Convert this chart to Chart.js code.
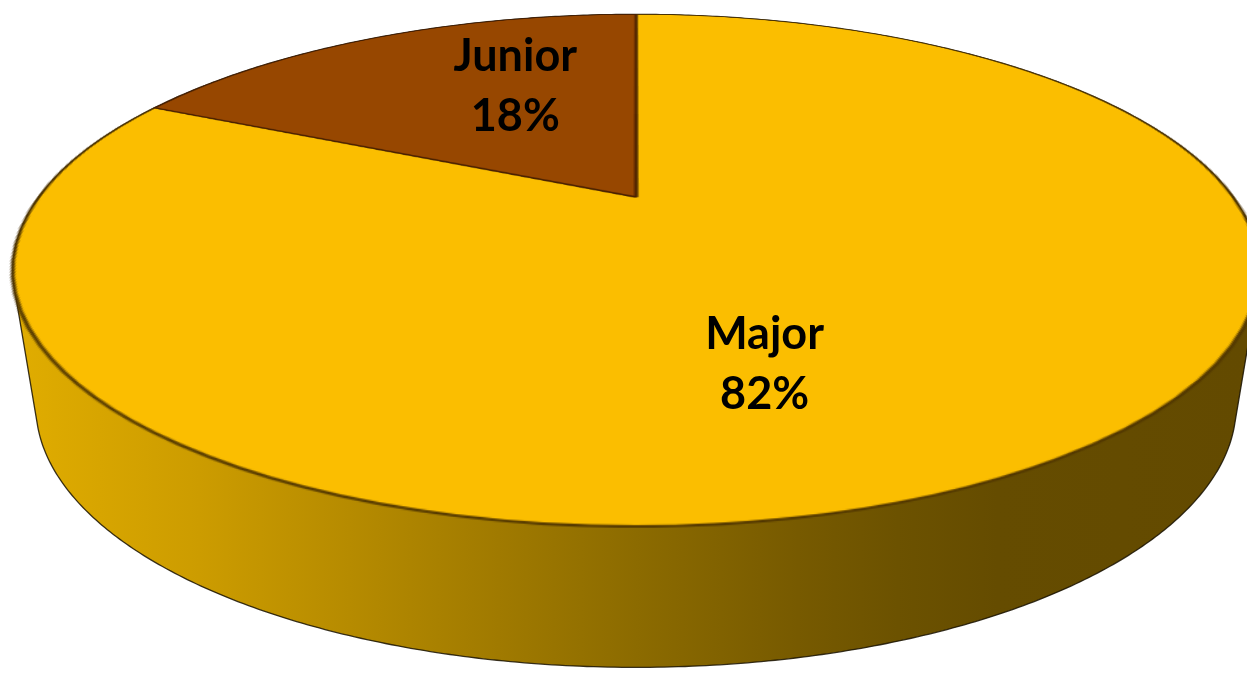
<!DOCTYPE html>
<html>
<head>
<meta charset="utf-8">
<title>Junior vs Major</title>
<script src="https://cdn.jsdelivr.net/npm/chart.js@4.4.1/dist/chart.umd.min.js"></script>
<style>
  html, body { margin: 0; padding: 0; background: #ffffff; }
  #wrap { width: 1247px; height: 673px; overflow: hidden; }
</style>
</head>
<body>
<div id="wrap"><canvas id="pieCanvas" width="1247" height="673"></canvas></div>
<script>
// values
const categories = ['Major', 'Junior'];
const shares = [82, 18];
const sliceColors = ['#FBBE00', '#974700'];
const sliceEdges = ['rgba(75,50,0,0.9)', 'rgba(70,30,0,0.9)'];

// where each label sits in its slice: [fraction along the arc, fraction of radius]
const labelSpots = [[0.553, 0.62], [0.64, 0.59]];

// tilted disc (simple perspective): top face and bottom rim
const TOP = { cx: 636, cy: 197, rx: 597, ry: 235, k: 0.2865 };
const BASE = { cx: 636, cy: 331, rx: 575, ry: 240, k: 0.2865 };

function project(p, u, v) {
    const w = 1 / (1 - p.k * v);
    return [p.cx + p.rx * u * w, p.cy + p.ry * v * w];
}

function convexHull(pts) {
    const p = pts.slice().sort((a, b) => a[0] - b[0] || a[1] - b[1]);
    const cross = (o, a, b) => (a[0] - o[0]) * (b[1] - o[1]) - (a[1] - o[1]) * (b[0] - o[0]);
    const lower = [], upper = [];
    for (const q of p) {
        while (lower.length >= 2 && cross(lower[lower.length - 2], lower[lower.length - 1], q) <= 0) lower.pop();
        lower.push(q);
    }
    for (let i = p.length - 1; i >= 0; i--) {
        const q = p[i];
        while (upper.length >= 2 && cross(upper[upper.length - 2], upper[upper.length - 1], q) <= 0) upper.pop();
        upper.push(q);
    }
    upper.pop(); lower.pop();
    return lower.concat(upper);
}

// Re-draws the flat pie that Chart.js just painted as a tilted 3D disc
const tiltPlugin = {
    id: 'tilt',
    afterDatasetsDraw(chart) {
        const ctx = chart.ctx, cv = chart.canvas;
        const arc = chart.getDatasetMeta(0).data[0];
        const sx0 = arc.x, sy0 = arc.y, r0 = arc.outerRadius;

        const flat = document.createElement('canvas');
        flat.width = cv.width; flat.height = cv.height;
        flat.getContext('2d').drawImage(cv, 0, 0);

        ctx.save();
        ctx.setTransform(1, 0, 0, 1, 0, 0);
        ctx.clearRect(0, 0, cv.width, cv.height);

        // side wall = hull of top rim and bottom rim
        const pts = [];
        for (let i = 0; i < 720; i++) {
            const a = i * Math.PI / 360;
            pts.push(project(TOP, Math.cos(a), Math.sin(a)));
            pts.push(project(BASE, Math.cos(a), Math.sin(a)));
        }
        const hull = convexHull(pts);
        const g = ctx.createLinearGradient(0, 0, cv.width, 0);
        g.addColorStop(0.00, '#E2AE00');
        g.addColorStop(0.16, '#CC9C00');
        g.addColorStop(0.40, '#A07A00');
        g.addColorStop(0.51, '#8C6B00');
        g.addColorStop(0.64, '#775A00');
        g.addColorStop(0.72, '#6C5200');
        g.addColorStop(0.80, '#654C00');
        g.addColorStop(1.00, '#634A00');
        ctx.beginPath();
        hull.forEach((q, i) => i ? ctx.lineTo(q[0], q[1]) : ctx.moveTo(q[0], q[1]));
        ctx.closePath();
        ctx.fillStyle = g;
        ctx.fill();
        ctx.lineWidth = 1.3;
        ctx.strokeStyle = 'rgba(25,18,0,0.85)';
        ctx.stroke();

        // top face, row by row
        const yTop = Math.floor(TOP.cy - TOP.ry / (1 + TOP.k)) - 2;
        const yBot = Math.ceil(TOP.cy + TOP.ry / (1 - TOP.k)) + 2;
        for (let y = yTop; y <= yBot; y++) {
            const d = y + 0.5 - TOP.cy;
            const v = d / (TOP.ry + TOP.k * d);
            if (v < -1.02 || v > 1.02) continue;
            const w = 1 / (1 - TOP.k * v);
            const s = TOP.rx * w / r0;
            const sy = sy0 + v * r0;
            ctx.drawImage(flat, 0, sy - 0.5, cv.width, 1, TOP.cx - s * sx0, y, cv.width * s, 1);
        }
        ctx.restore();
    }
};

const sliceLabelPlugin = {
    id: 'sliceLabels',
    afterDraw(chart) {
        const ctx = chart.ctx;
        const meta = chart.getDatasetMeta(0);
        const total = shares.reduce((a, b) => a + b, 0);
        ctx.save();
        ctx.font = 'bold 45px Lato';
        ctx.fillStyle = '#000000';
        ctx.textAlign = 'center';
        ctx.textBaseline = 'alphabetic';
        meta.data.forEach((el, i) => {
            const [f, rr] = labelSpots[i];
            const a = el.startAngle + f * (el.endAngle - el.startAngle);
            const [x, y] = project(TOP, rr * Math.cos(a), rr * Math.sin(a));
            ctx.fillText(categories[i], x, y - 16);
            ctx.fillText(Math.round(shares[i] / total * 100) + '%', x, y + 44);
        });
        ctx.restore();
    }
};

new Chart(document.getElementById('pieCanvas').getContext('2d'), {
    type: 'pie',
    data: {
        labels: categories,
        datasets: [{
            data: shares,
            backgroundColor: sliceColors,
            borderColor: sliceEdges,
            borderWidth: 2
        }]
    },
    options: {
        responsive: false,
        devicePixelRatio: 1,
        animation: false,
        layout: { padding: 0 },
        plugins: {
            legend: { display: false },
            tooltip: { enabled: false }
        }
    },
    plugins: [tiltPlugin, sliceLabelPlugin]
});
</script>
</body>
</html>
